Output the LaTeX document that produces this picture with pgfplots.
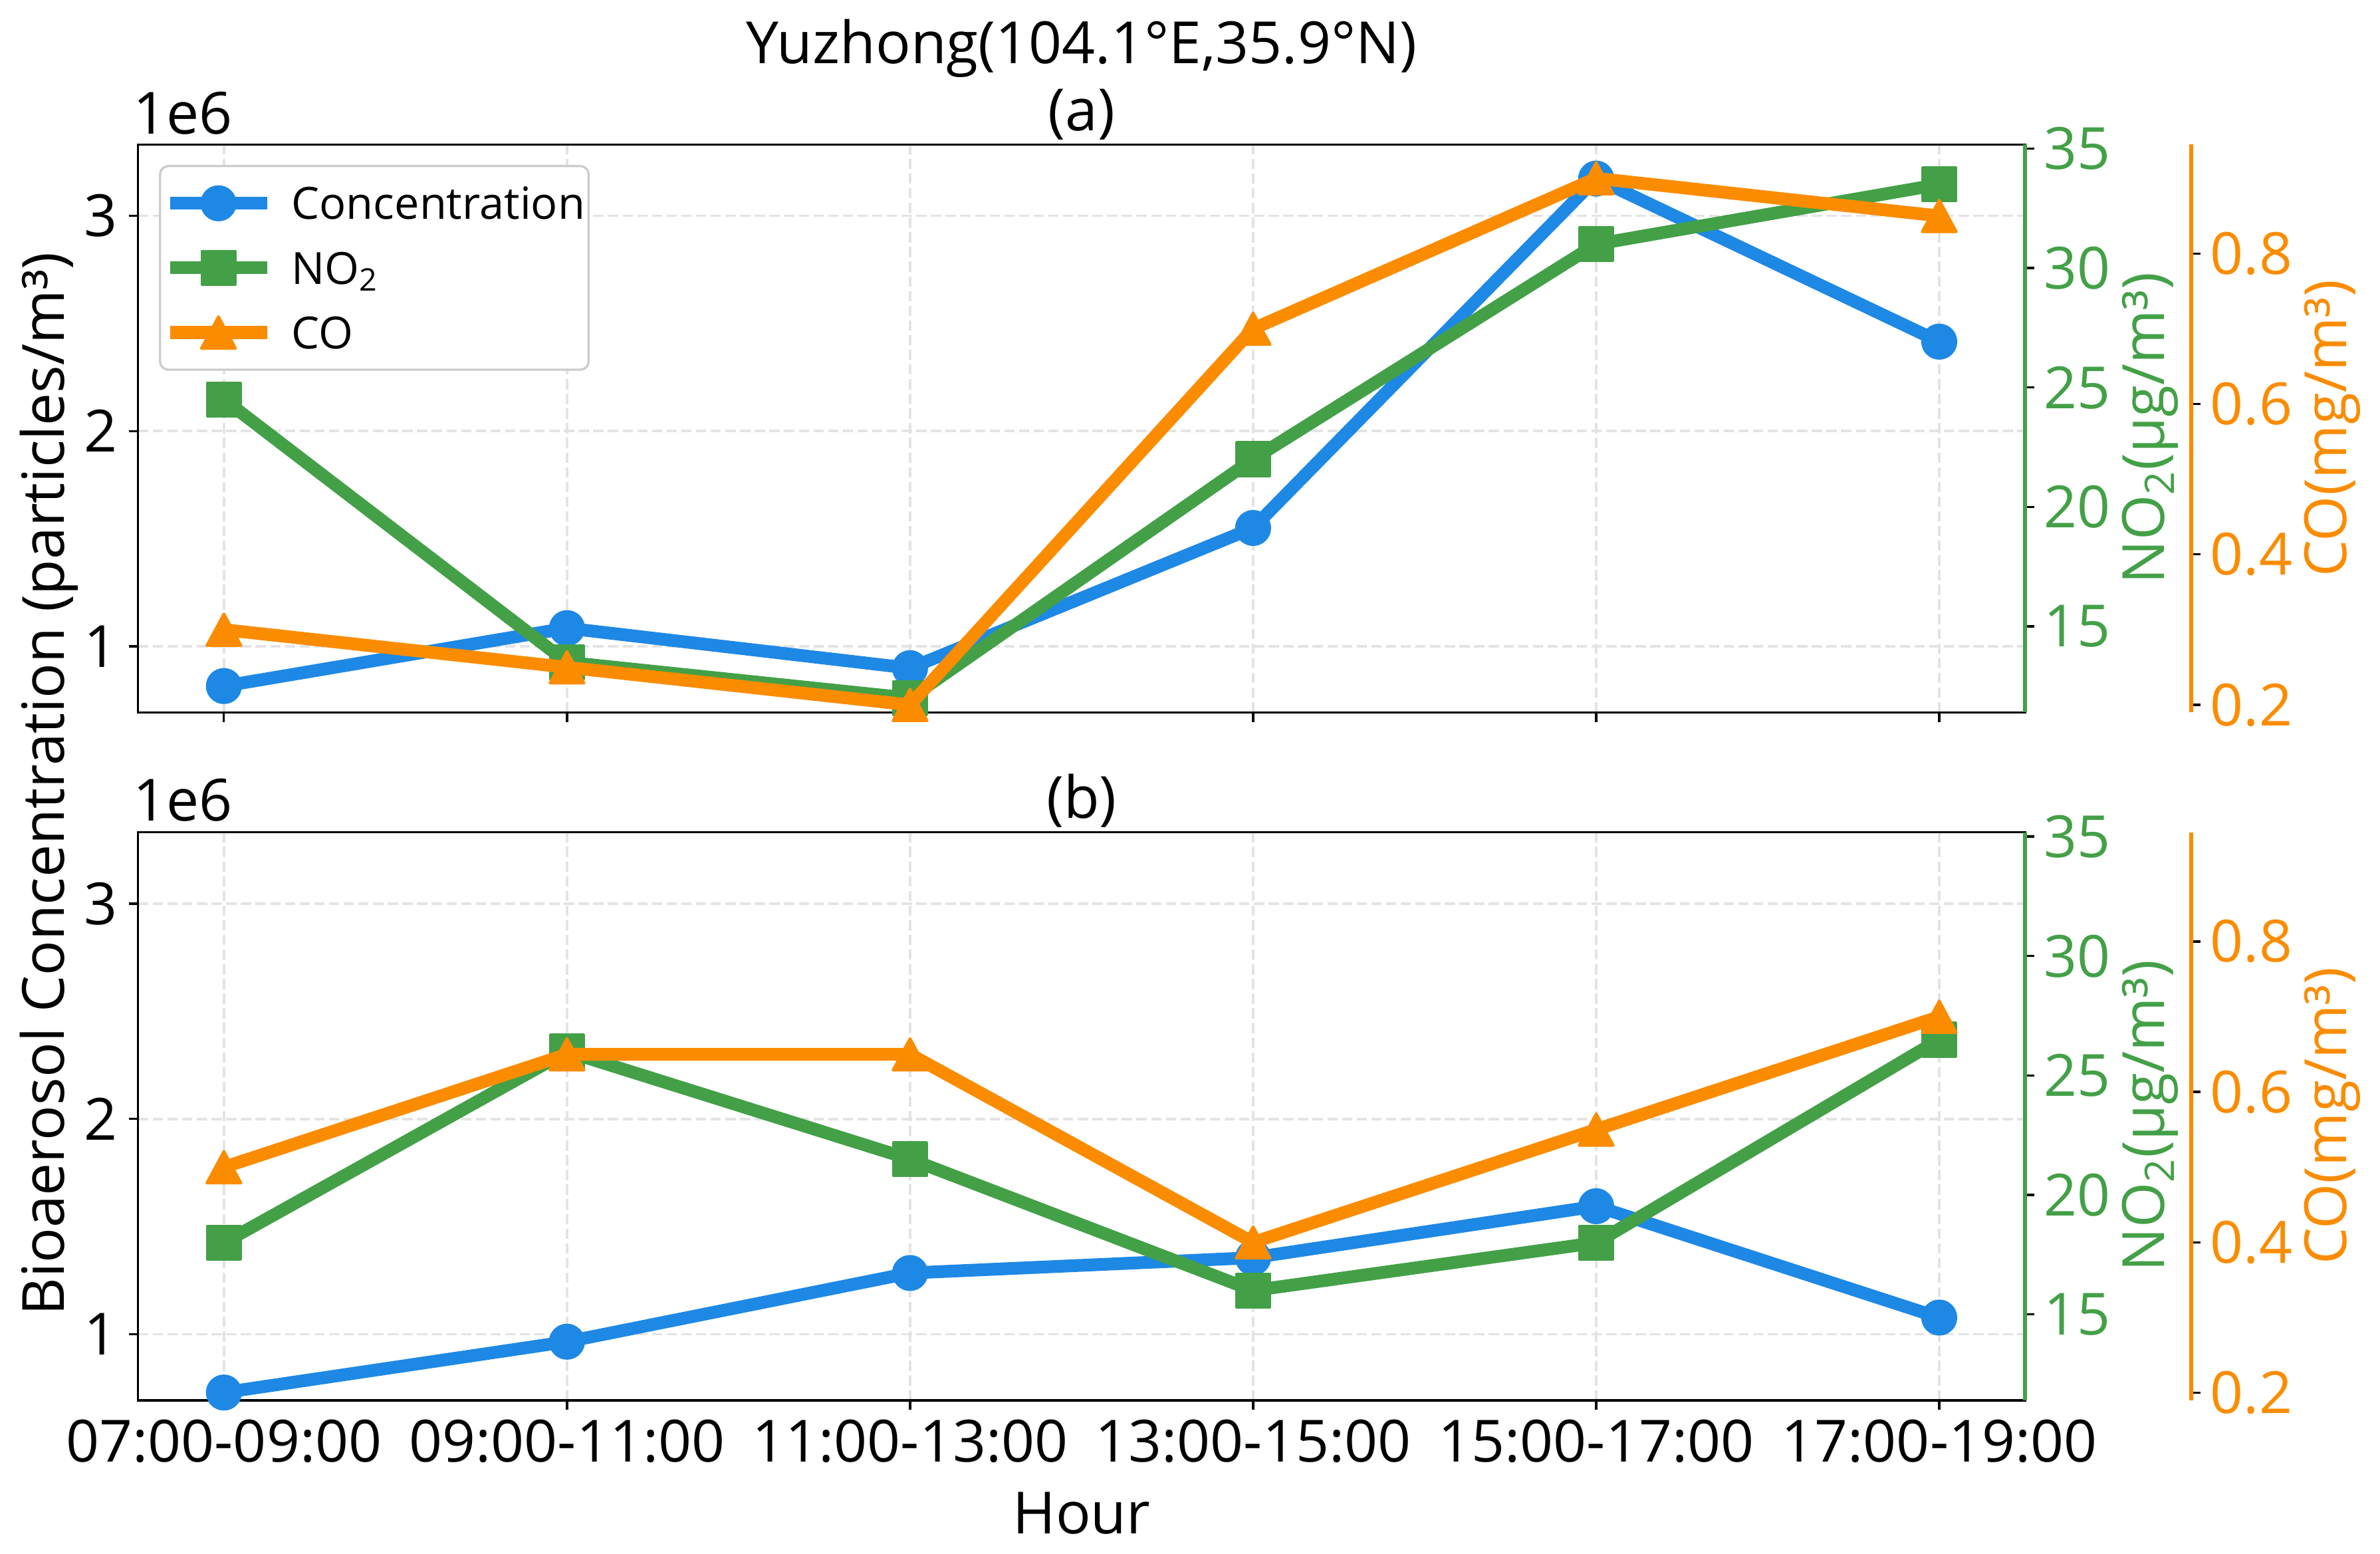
\documentclass[border=0pt]{standalone}
\usepackage{pgfplots}
\pgfplotsset{compat=1.18}
\usepackage{fontspec}
\setmainfont{Open Sans}
\definecolor{cblue}{HTML}{1E88E5}
\definecolor{cgreen}{HTML}{43A047}
\definecolor{corange}{HTML}{FB8C00}
\definecolor{gridc}{HTML}{E3E3E3}
\newcommand{\bigf}{\fontsize{21bp}{25bp}\selectfont}
\newcommand{\legf}{\fontsize{16bp}{19bp}\selectfont}
\pgfplotsset{
  base/.style={
    scale only axis, width=681.17bp, height=205bp,
    anchor=south west,
    xmin=-0.25, xmax=5.25,
    tick align=outside,
    major tick length=3.4bp,
    tick style={black, line width=0.8bp},
    tick label style={font=\bigf},
    /pgf/number format/assume math mode=true,
    clip=true,
  },
  conc/.style={color=cblue, line width=4.6bp, line join=round, mark=*, mark size=6bp,
    mark options={solid, sharp corners, line width=1bp, fill=cblue}},
  no2/.style={color=cgreen, line width=4.6bp, line join=round, mark=square*, mark size=6bp,
    mark options={solid, sharp corners, line width=1bp, fill=cgreen}},
  co/.style={color=corange, line width=4.6bp, line join=round, mark=triangle*, mark size=7.1bp,
    mark options={solid, sharp corners, line width=1bp, fill=corange, yshift=-1.9bp, yscale=1.07}},
  mainax/.style={base,
    ymin=693500, ymax=3330600,
    ytick={1000000,2000000,3000000}, yticklabels={1,2,3},
    scaled y ticks=false,
    xtick={0,1,2,3,4,5},
    xtick pos=left, ytick pos=left,
    axis line style={line width=0.8bp, black},
    grid=major,
    major grid style={line width=0.85bp, gridc, dash pattern=on 3.7bp off 1.6bp},
    yticklabel style={inner sep=0pt, xshift=-3.8bp},
  },
  no2ax/.style={base,
    ymin=11.4, ymax=35.175,
    axis x line=none,
    axis y line*=right,
    ytick={15,20,25,30,35},
    y axis line style={line width=1.5bp, cgreen},
    yticklabel style={inner sep=0pt, xshift=3.3bp, text=cgreen},
  },
  coax/.style={base,
    width=741.17bp, xmax=5.73443,
    ymin=0.19, ymax=0.945,
    axis x line=none,
    axis y line*=right,
    ytick={0.2,0.4,0.6,0.8},
    yticklabel style={inner sep=0pt, xshift=3.3bp, text=corange,
      /pgf/number format/fixed, /pgf/number format/fixed zerofill, /pgf/number format/precision=1},
    y axis line style={line width=1.5bp, corange},
  },
}
\begin{document}
\begin{tikzpicture}
\path[use as bounding box] (0,0) rectangle (859.2bp,560.88bp);
% ---------- panel (a) ----------
\begin{axis}[mainax, at={(49.87bp,303.74bp)}, xticklabels={},
  legend style={at={(0,1)}, anchor=north west, xshift=7.5bp, yshift=-7.4bp,
    draw=gray!40, line width=0.8bp, rounded corners=3bp, fill=white,
    inner xsep=1.3bp, inner ysep=1.8bp, row sep=0pt,
    nodes={inner sep=0pt, text depth=, font=\legf}, cells={anchor=west}},
  legend image code/.code={
    \path[draw=none, fill=none] (0bp,-11.65bp) rectangle (43.9bp,11.65bp);
    \draw[mark repeat=2,mark phase=2,sharp corners,#1] plot coordinates {(0bp,0bp) (17.5bp,0bp) (35bp,0bp)};
  }]
\addplot[conc] coordinates {(0,816000) (1,1085000) (2,899000) (3,1550000) (4,3172000) (5,2415000)};
\addlegendentry{\rule[-5.85bp]{0pt}{23.3bp}Concentration}
\addlegendimage{no2}
\addlegendentry{\rule[-5.85bp]{0pt}{23.3bp}NO\textsubscript{2}}
\addlegendimage{co}
\addlegendentry{\rule[-5.85bp]{0pt}{23.3bp}CO}
\end{axis}
\begin{axis}[no2ax, at={(49.87bp,303.74bp)}]
\addplot[no2] coordinates {(0,24.5) (1,13.5) (2,12.0) (3,22.0) (4,31.0) (5,33.5)};
\end{axis}
\begin{axis}[coax, at={(49.87bp,303.74bp)}]
\addplot[co] coordinates {(0,0.30) (1,0.25) (2,0.20) (3,0.70) (4,0.90) (5,0.85)};
\end{axis}
% ---------- panel (b) ----------
\begin{axis}[mainax, at={(49.87bp,55.44bp)},
  xticklabels={07:00-09:00,09:00-11:00,11:00-13:00,13:00-15:00,15:00-17:00,17:00-19:00}]
\addplot[conc] coordinates {(0,730000) (1,966000) (2,1285000) (3,1356000) (4,1595000) (5,1078000)};
\end{axis}
\begin{axis}[no2ax, at={(49.87bp,55.44bp)}]
\addplot[no2] coordinates {(0,18.0) (1,26.0) (2,21.5) (3,16.0) (4,18.0) (5,26.5)};
\end{axis}
\begin{axis}[coax, at={(49.87bp,55.44bp)}]
\addplot[co] coordinates {(0,0.50) (1,0.65) (2,0.65) (3,0.40) (4,0.55) (5,0.70)};
\end{axis}
% ---------- texts ----------
\node[font=\bigf, anchor=base] at (390.45bp,537.84bp) {Yuzhong(104.1°E,35.9°N)};
\node[font=\bigf, anchor=base] at (390.45bp,513.74bp) {(a)};
\node[font=\bigf, anchor=base] at (390.45bp,265.58bp) {(b)};
\node[font=\bigf, anchor=base west, inner sep=0pt] at (48bp,512.6bp) {1e6};
\node[font=\bigf, anchor=base west, inner sep=0pt] at (48bp,264.5bp) {1e6};
\node[font=\bigf, anchor=base] at (390.45bp,7.44bp) {Hour};
\node[font=\bigf, anchor=base, rotate=90] at (23.28bp,277.9bp) {Bioaerosol Concentration (particles/m³)};
\node[font=\bigf, anchor=base, rotate=90, text=cgreen] at (781.4bp,406.24bp) {NO\textsubscript{2}(μg/m³)};
\node[font=\bigf, anchor=base, rotate=90, text=cgreen] at (781.4bp,158.08bp) {NO\textsubscript{2}(μg/m³)};
\node[font=\bigf, anchor=base, rotate=90, text=corange] at (847.0bp,406.24bp) {CO(mg/m³)};
\node[font=\bigf, anchor=base, rotate=90, text=corange] at (847.0bp,158.08bp) {CO(mg/m³)};
\end{tikzpicture}
\end{document}
